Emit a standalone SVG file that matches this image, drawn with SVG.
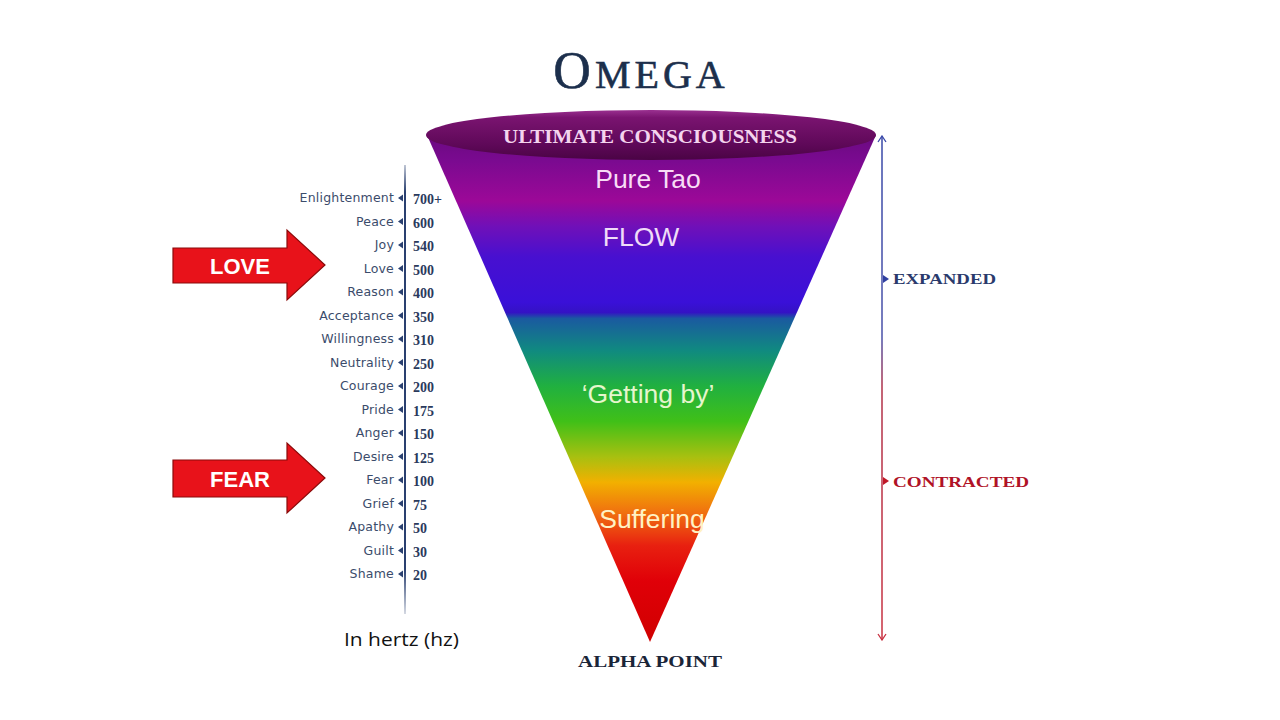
<svg xmlns="http://www.w3.org/2000/svg" width="1280" height="720" viewBox="0 0 1280 720">
<defs>
<style>
.lbl{font-family:"DejaVu Sans",sans-serif;font-size:12.5px;fill:#3b4c6b;text-anchor:end;letter-spacing:0.2px}
.num{font-family:"Liberation Serif",serif;font-size:14px;font-weight:bold;fill:#2a3a5c}
.inner{font-family:"Liberation Sans",Arial,sans-serif;font-size:26.5px;text-anchor:middle}
.arrtxt{font-family:"Liberation Sans",Arial,sans-serif;font-size:22px;font-weight:bold;fill:#ffffff;text-anchor:middle}
.side{font-family:"Liberation Serif",serif;font-size:15px;font-weight:bold}
.big-arrow{fill:#e8121a;stroke:#8a0a0a;stroke-width:1.2}
</style>
<linearGradient id="cone" gradientUnits="userSpaceOnUse" x1="0" y1="135" x2="0" y2="642">
<stop offset="0" stop-color="#6a0a80"/>
<stop offset="0.05" stop-color="#7a0a90"/>
<stop offset="0.13" stop-color="#9c0898"/>
<stop offset="0.18" stop-color="#7010b8"/>
<stop offset="0.24" stop-color="#4810d0"/>
<stop offset="0.33" stop-color="#3a10d8"/>
<stop offset="0.35" stop-color="#3412c4"/>
<stop offset="0.362" stop-color="#1a5aa0"/>
<stop offset="0.425" stop-color="#108a80"/>
<stop offset="0.495" stop-color="#20b040"/>
<stop offset="0.565" stop-color="#40c018"/>
<stop offset="0.635" stop-color="#a8c010"/>
<stop offset="0.685" stop-color="#f2b000"/>
<stop offset="0.745" stop-color="#f07010"/>
<stop offset="0.81" stop-color="#e82010"/>
<stop offset="0.88" stop-color="#e00008"/>
<stop offset="1" stop-color="#d00000"/>
</linearGradient>
<linearGradient id="lid" x1="0" y1="0" x2="0" y2="1">
<stop offset="0" stop-color="#9a3090"/>
<stop offset="0.15" stop-color="#7a1470"/>
<stop offset="0.7" stop-color="#5e0858"/>
<stop offset="1" stop-color="#4a0444"/>
</linearGradient>
<linearGradient id="axis" gradientUnits="userSpaceOnUse" x1="0" y1="135" x2="0" y2="640">
<stop offset="0" stop-color="#3848a8"/>
<stop offset="0.4" stop-color="#4850a8"/>
<stop offset="0.5" stop-color="#b03048"/>
<stop offset="1" stop-color="#c83040"/>
</linearGradient>
<linearGradient id="scale" gradientUnits="userSpaceOnUse" x1="0" y1="165" x2="0" y2="614">
<stop offset="0" stop-color="#2a4070" stop-opacity="0.3"/>
<stop offset="0.06" stop-color="#2a4070"/>
<stop offset="0.9" stop-color="#2a4070"/>
<stop offset="1" stop-color="#2a4070" stop-opacity="0.2"/>
</linearGradient>
<marker id="upB" markerWidth="10" markerHeight="10" refX="5" refY="1" orient="0" markerUnits="userSpaceOnUse">
<path d="M1,7 L5,1 L9,7" fill="none" stroke="#3848a8" stroke-width="1.3"/>
</marker>
<marker id="dnR" markerWidth="10" markerHeight="10" refX="5" refY="9" orient="0" markerUnits="userSpaceOnUse">
<path d="M1,3 L5,9 L9,3" fill="none" stroke="#c83040" stroke-width="1.3"/>
</marker>
<path id="tick" d="M0,0 L5,-3.5 L5,3.5 Z" fill="#2a4070"/>
</defs>

<rect width="1280" height="720" fill="#ffffff"/>

<g id="title">
<text x="641" y="88" text-anchor="middle" font-family="Liberation Serif,serif" fill="#1c2f4c" stroke="#1c2f4c" stroke-width="0.6" letter-spacing="4"><tspan font-size="52">O</tspan><tspan font-size="40">MEGA</tspan></text>
</g>

<g id="funnel">
<path d="M427,135 L876,135 L650,642 Z" fill="url(#cone)"/>
<ellipse cx="651" cy="135" rx="225" ry="25" fill="url(#lid)"/>
<text x="650" y="143" text-anchor="middle" font-family="Liberation Serif,serif" font-size="19" font-weight="bold" fill="#f4d4ee" textLength="294" lengthAdjust="spacingAndGlyphs">ULTIMATE CONSCIOUSNESS</text>
<text class="inner" x="648" y="188" fill="#f8dcf6">Pure Tao</text>
<text class="inner" x="641" y="246" fill="#f0dcf8">FLOW</text>
<text class="inner" x="648" y="403" fill="#e6f6cc">‘Getting by’</text>
<text class="inner" x="652" y="528" fill="#fff2c4">Suffering</text>
</g>

<g id="alpha-point">
<text x="650" y="667" text-anchor="middle" font-family="Liberation Serif,serif" font-size="16" font-weight="bold" fill="#1a2538" textLength="144" lengthAdjust="spacingAndGlyphs">ALPHA POINT</text>
</g>

<g id="connectors">
<line x1="882" y1="136" x2="882" y2="640" stroke="url(#axis)" stroke-width="1.5" marker-start="url(#upB)" marker-end="url(#dnR)"/>
<path d="M883,275 L889,279 L883,283 Z" fill="#3040a0"/>
<path d="M883,477 L889,481 L883,485 Z" fill="#c01828"/>
<line x1="405" y1="165" x2="405" y2="614" stroke="url(#scale)" stroke-width="2"/>
</g>

<g id="expanded">
<text class="side" x="893" y="284" fill="#2a3a6c" textLength="103" lengthAdjust="spacingAndGlyphs">EXPANDED</text>
</g>
<g id="contracted">
<text class="side" x="893" y="487" fill="#b01226" textLength="136" lengthAdjust="spacingAndGlyphs">CONTRACTED</text>
</g>

<g id="scale-levels">
<g transform="translate(0,198)"><text class="lbl" x="394" y="4">Enlightenment</text><use href="#tick" x="398"/><text class="num" x="413" y="6">700+</text></g>
<g transform="translate(0,221.5)"><text class="lbl" x="394" y="4">Peace</text><use href="#tick" x="398"/><text class="num" x="413" y="6">600</text></g>
<g transform="translate(0,245)"><text class="lbl" x="394" y="4">Joy</text><use href="#tick" x="398"/><text class="num" x="413" y="6">540</text></g>
<g transform="translate(0,268.5)"><text class="lbl" x="394" y="4">Love</text><use href="#tick" x="398"/><text class="num" x="413" y="6">500</text></g>
<g transform="translate(0,292)"><text class="lbl" x="394" y="4">Reason</text><use href="#tick" x="398"/><text class="num" x="413" y="6">400</text></g>
<g transform="translate(0,315.5)"><text class="lbl" x="394" y="4">Acceptance</text><use href="#tick" x="398"/><text class="num" x="413" y="6">350</text></g>
<g transform="translate(0,339)"><text class="lbl" x="394" y="4">Willingness</text><use href="#tick" x="398"/><text class="num" x="413" y="6">310</text></g>
<g transform="translate(0,362.5)"><text class="lbl" x="394" y="4">Neutrality</text><use href="#tick" x="398"/><text class="num" x="413" y="6">250</text></g>
<g transform="translate(0,386)"><text class="lbl" x="394" y="4">Courage</text><use href="#tick" x="398"/><text class="num" x="413" y="6">200</text></g>
<g transform="translate(0,409.5)"><text class="lbl" x="394" y="4">Pride</text><use href="#tick" x="398"/><text class="num" x="413" y="6">175</text></g>
<g transform="translate(0,433)"><text class="lbl" x="394" y="4">Anger</text><use href="#tick" x="398"/><text class="num" x="413" y="6">150</text></g>
<g transform="translate(0,456.5)"><text class="lbl" x="394" y="4">Desire</text><use href="#tick" x="398"/><text class="num" x="413" y="6">125</text></g>
<g transform="translate(0,480)"><text class="lbl" x="394" y="4">Fear</text><use href="#tick" x="398"/><text class="num" x="413" y="6">100</text></g>
<g transform="translate(0,503.5)"><text class="lbl" x="394" y="4">Grief</text><use href="#tick" x="398"/><text class="num" x="413" y="6">75</text></g>
<g transform="translate(0,527)"><text class="lbl" x="394" y="4">Apathy</text><use href="#tick" x="398"/><text class="num" x="413" y="6">50</text></g>
<g transform="translate(0,550.5)"><text class="lbl" x="394" y="4">Guilt</text><use href="#tick" x="398"/><text class="num" x="413" y="6">30</text></g>
<g transform="translate(0,574)"><text class="lbl" x="394" y="4">Shame</text><use href="#tick" x="398"/><text class="num" x="413" y="6">20</text></g>
</g>

<g id="love-arrow">
<path class="big-arrow" d="M173,248 L287,248 L287,230 L325,265 L287,300 L287,283 L173,283 Z"/>
<text class="arrtxt" x="240" y="274">LOVE</text>
</g>
<g id="fear-arrow">
<path class="big-arrow" d="M173,460 L287,460 L287,443 L325,478 L287,513 L287,497 L173,497 Z"/>
<text class="arrtxt" x="240" y="487">FEAR</text>
</g>

<g id="units">
<text x="344" y="646" font-family="Open Sans,Liberation Sans,sans-serif" font-size="18" fill="#111111" textLength="115" lengthAdjust="spacingAndGlyphs">In hertz (hz)</text>
</g>
</svg>
